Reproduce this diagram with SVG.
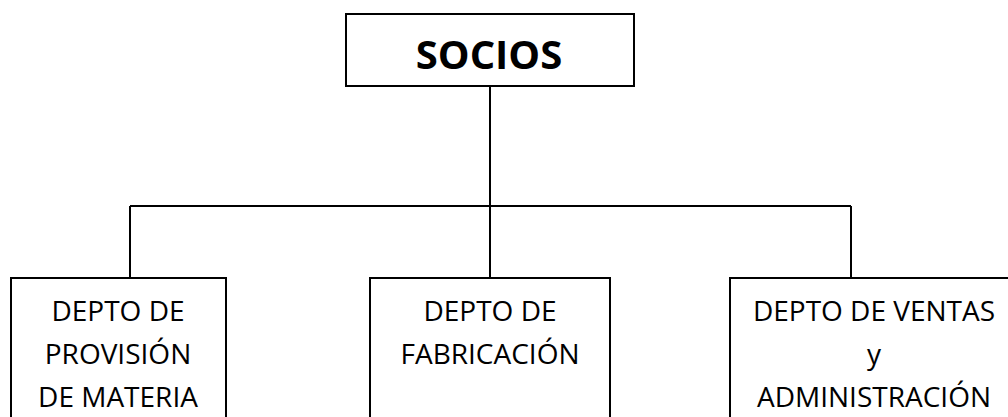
<svg xmlns="http://www.w3.org/2000/svg" width="1008" height="417" viewBox="0 0 1008 417">
<style>
.box{fill:#fff;stroke:#000;stroke-width:2}
.ln{fill:none;stroke:#000;stroke-width:2}
.t{font-family:"Open Sans","Liberation Sans",sans-serif;font-size:28px;fill:#000;text-anchor:middle}
.b{font-family:"Open Sans","Liberation Sans",sans-serif;font-size:40px;font-weight:bold;fill:#000;text-anchor:middle}
</style>
<rect width="1008" height="417" fill="#fff"/>
<g id="connectors">
<path class="ln" d="M490,86 V206 M130,206 H851 M130,206 V278 M490,206 V278 M851,206 V278"/>
</g>
<g id="socios">
<rect class="box" x="346" y="14" width="288" height="72"/>
<text class="b" x="489" y="69">SOCIOS</text>
</g>
<g id="provision">
<rect class="box" x="11" y="278" width="215" height="150"/>
<text class="t" x="118" y="321">DEPTO DE</text>
<text class="t" x="118" y="364">PROVISIÓN</text>
<text class="t" x="118" y="407">DE MATERIA</text>
</g>
<g id="fabricacion">
<rect class="box" x="370" y="278" width="240" height="150"/>
<text class="t" x="490" y="321">DEPTO DE</text>
<text class="t" x="490" y="364">FABRICACIÓN</text>
</g>
<g id="ventas">
<rect class="box" x="730" y="278" width="288" height="150"/>
<text class="t" x="874" y="321">DEPTO DE VENTAS</text>
<text class="t" x="874" y="364">y</text>
<text class="t" x="874" y="407">ADMINISTRACIÓN</text>
</g>
</svg>
